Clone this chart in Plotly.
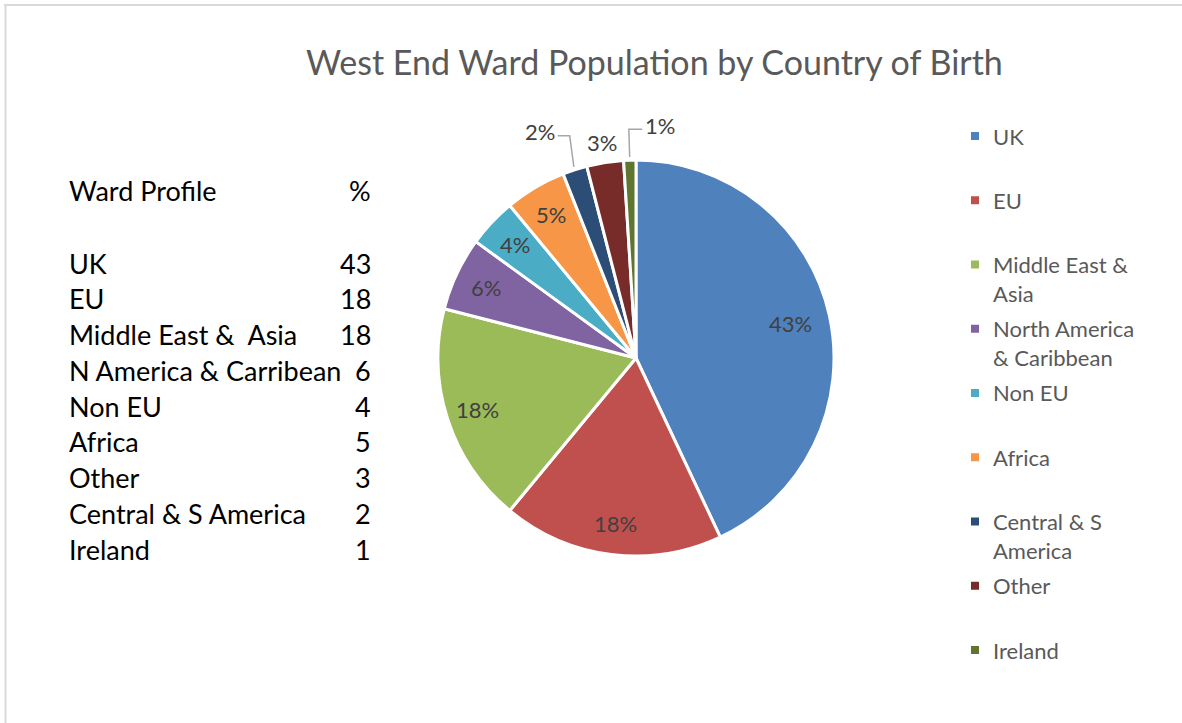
import math
import plotly.graph_objects as go

# ---- data ----
categories = ["UK", "EU", "Middle East & Asia", "North America & Caribbean",
              "Non EU", "Africa", "Central & S America", "Other", "Ireland"]
shares = [43, 18, 18, 6, 4, 5, 2, 3, 1]
legend_labels = ["UK", "EU", "Middle East &\nAsia", "North America\n& Caribbean",
                 "Non EU", "Africa", "Central & S\nAmerica", "Other", "Ireland"]
colors = ["#4F81BD", "#C0504D", "#9BBB59", "#8064A2", "#4BACC6",
          "#F79646", "#2C4D75", "#772C2A", "#5F7530"]

table_header = ["Ward Profile", "%"]
table_names = ["UK", "EU", "Middle East &  Asia", "N America & Carribean",
               "Non EU", "Africa", "Other", "Central & S America", "Ireland"]
table_values = [43, 18, 18, 6, 4, 5, 3, 2, 1]

title_text = "West End Ward Population by Country of Birth"

# ---- layout helpers (pixel -> paper, margins are zero) ----
W, H = 1182, 723
FONT = "Lato"


def fx(x):
    return x / W


def fy(y):
    return 1 - y / H


CX, CY, R = 636, 358, 198          # pie centre and radius in pixels
outside = {6: (-29, -19), 7: (0, 0), 8: (31, -15)}   # label nudges for thin slices

fig = go.Figure()
fig.add_trace(go.Pie(
    labels=categories,
    values=shares,
    sort=False,
    direction="clockwise",
    rotation=0,
    marker=dict(colors=colors, line=dict(color="white", width=3)),
    textinfo="none",
    showlegend=False,
    hovertemplate="%{label}: %{value}%<extra></extra>",
    domain=dict(x=[fx(CX - R), fx(CX + R)], y=[fy(CY + R), fy(CY - R)]),
))

annotations = []
shapes = []
total = sum(shares)
cum = 0
for i, v in enumerate(shares):
    frac = v / total
    mid = (cum + v / 2) / total * 2 * math.pi
    cum += v
    sx, sy = math.sin(mid), -math.cos(mid)
    if i in outside:
        ox, oy = outside[i]
        lx, ly = CX + sx * R * 1.1 + ox, CY + sy * R * 1.1 + oy
        if ox != 0:
            # elbow leader line from the label to the slice edge
            ex, ey = CX + sx * (R + 3), CY + sy * (R + 3)
            t = (ly + 4 - ey) / sy
            bx = ex + sx * t
            if ox < 0:
                bx = max(bx, lx + 30)
            startx = lx + (18 if ox < 0 else -18)
            shapes.append(dict(
                type="path", xref="paper", yref="paper",
                path=f"M {fx(startx)} {fy(ly + 4)} L {fx(bx)} {fy(ly + 4)} L {fx(ex)} {fy(ey)}",
                line=dict(color="#A6A6A6", width=1.5)))
    else:
        rr = 0.80 if frac > 0.3 else 0.84
        lx, ly = CX + sx * R * rr, CY + sy * R * rr
    annotations.append(dict(
        x=fx(lx), y=fy(ly), xref="paper", yref="paper", showarrow=False,
        text=f"{v}%", font=dict(family=FONT, size=22, color="#404040"),
        xanchor="center", yanchor="middle"))

# legend: square swatch + wrapped label per slice
LEG_X, LEG_Y0, LEG_STEP, LEG_LINE = 975, 136, 64.25, 28.5
for i, (lab, col) in enumerate(zip(legend_labels, colors)):
    y0 = LEG_Y0 + i * LEG_STEP
    shapes.append(dict(type="rect", xref="paper", yref="paper",
                       x0=fx(LEG_X - 4), x1=fx(LEG_X + 4), y0=fy(y0 + 4), y1=fy(y0 - 4),
                       fillcolor=col, line=dict(width=0)))
    for j, line in enumerate(lab.split("\n")):
        annotations.append(dict(
            x=fx(991), y=fy(y0 + j * LEG_LINE), xref="paper", yref="paper",
            showarrow=False, text=line, xanchor="left", yanchor="middle",
            font=dict(family=FONT, size=22, color="#595959")))

# side table
TAB_X0, TAB_X1 = 67, 373
TAB_FONT = dict(family=FONT, size=27, color="black")
annotations.append(dict(x=fx(TAB_X0), y=fy(191), xref="paper", yref="paper", showarrow=False,
                        text=table_header[0], xanchor="left", yanchor="middle", font=TAB_FONT))
annotations.append(dict(x=fx(TAB_X1), y=fy(191), xref="paper", yref="paper", showarrow=False,
                        text=table_header[1], xanchor="right", yanchor="middle", font=TAB_FONT))
for i, (name, val) in enumerate(zip(table_names, table_values)):
    y = 263 + i * 35.75
    annotations.append(dict(x=fx(TAB_X0), y=fy(y), xref="paper", yref="paper", showarrow=False,
                            text=name, xanchor="left", yanchor="middle", font=TAB_FONT))
    annotations.append(dict(x=fx(TAB_X1), y=fy(y), xref="paper", yref="paper", showarrow=False,
                            text=str(val), xanchor="right", yanchor="middle", font=TAB_FONT))

# title
annotations.append(dict(x=fx(654), y=fy(61), xref="paper", yref="paper", showarrow=False,
                        text=title_text, xanchor="center", yanchor="middle",
                        font=dict(family=FONT, size=34, color="#595959")))

# chart frame (top and left edges)
shapes.append(dict(type="line", xref="paper", yref="paper", x0=fx(4), x1=1, y0=fy(5), y1=fy(5),
                   line=dict(color="#D9D9D9", width=2)))
shapes.append(dict(type="line", xref="paper", yref="paper", x0=fx(5.5), x1=fx(5.5), y0=fy(4), y1=0,
                   line=dict(color="#D9D9D9", width=2)))

fig.update_layout(
    width=W, height=H,
    margin=dict(l=0, r=0, t=0, b=0),
    paper_bgcolor="white", plot_bgcolor="white",
    annotations=annotations, shapes=shapes,
    showlegend=False,
)

fig.write_html("out.html")
